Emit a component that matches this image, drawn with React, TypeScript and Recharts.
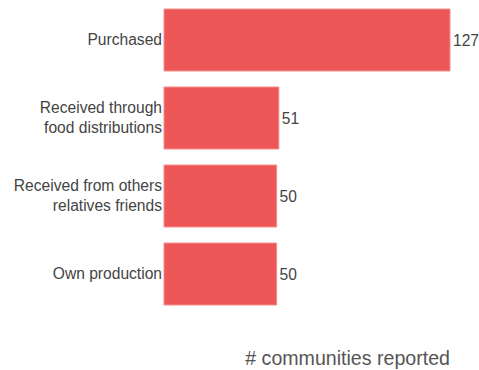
import React from 'react'
import { BarChart, Bar, XAxis, YAxis, LabelList } from 'recharts'

const categories = ['Purchased', 'Received through food distributions', 'Received from others relatives friends', 'Own production']
const tickLines = [['Purchased'], ['Received through', 'food distributions'], ['Received from others', 'relatives friends'], ['Own production']]
const counts = [127, 51, 50, 50]

const data = categories.map((c, i) => ({ name: c, value: counts[i] }))

const FONT = '"Liberation Sans", Arial, sans-serif'

const CategoryTick = (props: any) => {
  const { x, y, index } = props
  const lines = tickLines[index] || [props.payload.value]
  const start = -((lines.length - 1) * 20) / 2
  return (
    <text x={x} y={y} textAnchor="end" fill="#444" fontSize={15.6} fontFamily={FONT}>
      {lines.map((l: string, i: number) => (
        <tspan key={i} x={x} y={y + start + i * 20} dy="0.35em">{l}</tspan>
      ))}
    </text>
  )
}

const App = () => {
  return (
    <div style={{ position: 'absolute', left: 0, top: 0 }}>
      <BarChart width={479} height={370} data={data} layout="vertical"
        margin={{ top: 1, right: 29, bottom: 0, left: 0 }} barCategoryGap={8}>
        <XAxis type="number" domain={[0, 127]} tick={false} axisLine={false} tickLine={false} height={57}
          label={{ value: '# communities reported', position: 'insideBottomRight', offset: 5, dx: 5, fill: '#555', fontSize: 19.6, fontFamily: FONT }} />
        <YAxis type="category" dataKey="name" width={164} axisLine={false} tickLine={false} tickSize={0} tickMargin={2} tick={<CategoryTick />} />
        <Bar dataKey="value" fill="#ED5757" stroke="#F28E8E" strokeWidth={1} isAnimationActive={false}>
          <LabelList dataKey="value" position="right" offset={3} fill="#444" fontSize={15.6} fontFamily={FONT} />
        </Bar>
      </BarChart>
    </div>
  )
}

export default App
